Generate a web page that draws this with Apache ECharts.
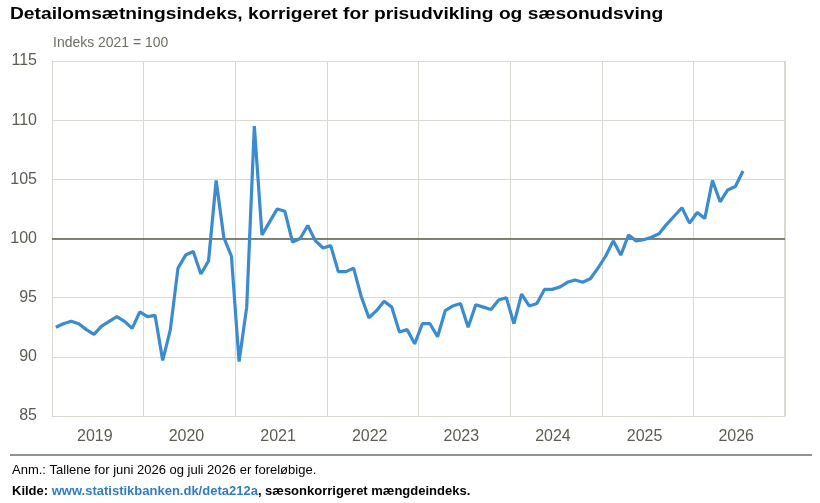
<!DOCTYPE html>
<html>
<head>
<meta charset="utf-8">
<script src="https://cdn.jsdelivr.net/npm/echarts@6/dist/echarts.min.js"></script>
<style>
html,body{margin:0;padding:0;background:#fff;}
#c{width:820px;height:503px;}
</style>
</head>
<body>
<div id="c"></div>
<script>
var years = ['2019','2020','2021','2022','2023','2024','2025','2026'];
var yTicks = [85, 90, 95, 100, 105, 110, 115];
var v2019 = [92.5, 92.8, 93.0, 92.8, 92.3, 91.9, 92.6, 93.0, 93.4, 93.0, 92.4, 93.8];
var v2020 = [93.4, 93.5, 89.7, 92.3, 97.5, 98.6, 98.9, 97.0, 98.1, 104.9, 100.1, 98.5];
var v2021 = [89.6, 94.2, 109.5, 100.3, 101.4, 102.5, 102.3, 99.7, 100.0, 101.1, 99.8, 99.2];
var v2022 = [99.4, 97.2, 97.2, 97.5, 95.1, 93.3, 93.9, 94.7, 94.2, 92.1, 92.3, 91.1];
var v2023 = [92.8, 92.8, 91.7, 93.9, 94.3, 94.5, 92.5, 94.4, 94.2, 94.0, 94.8, 95.0];
var v2024 = [92.8, 95.3, 94.3, 94.5, 95.7, 95.7, 95.9, 96.3, 96.5, 96.3, 96.6, 97.5];
var v2025 = [98.5, 99.8, 98.6, 100.3, 99.8, 99.9, 100.1, 100.4, 101.2, 101.9, 102.6, 101.3];
var v2026 = [102.2, 101.7, 104.9, 103.1, 104.1, 104.4, 105.7];
var refValue = 100;

var values = [].concat(v2019, v2020, v2021, v2022, v2023, v2024, v2025, v2026);
var months = [];
years.forEach(function (y) { for (var m = 1; m <= 12; m++) months.push(y + '-' + (m < 10 ? '0' : '') + m); });

var sans = '"Liberation Sans", Arial, sans-serif';
var chart = echarts.init(document.getElementById('c'), null, {renderer: 'canvas'});
chart.setOption({
  animation: false,
  backgroundColor: '#ffffff',
  grid: {left: 52, right: 35, top: 61, bottom: 87, containLabel: false},
  xAxis: [{
    type: 'category', data: years, boundaryGap: true, position: 'bottom',
    axisLine: {show: true, lineStyle: {color: '#d9d9d2', width: 1}},
    axisTick: {show: false},
    axisLabel: {color: '#5c5c52', fontSize: 16, fontFamily: sans, margin: 13, padding: [0, 6, 0, 0]},
    splitLine: {show: true, lineStyle: {color: '#d9d9d2', width: 1}}
  }, {
    type: 'category', data: months, boundaryGap: true, show: false
  }],
  yAxis: {
    type: 'value', min: 85, max: 115, interval: 5,
    axisLine: {show: true, lineStyle: {color: '#d9d9d2'}},
    axisTick: {show: false},
    axisLabel: {color: '#5c5c52', fontSize: 16, fontFamily: sans, margin: 15,
      formatter: function (v) { return yTicks.indexOf(v) >= 0 ? String(v) : ''; }},
    splitLine: {show: true, lineStyle: {color: '#d9d9d2', width: 1}}
  },
  graphic: [
    {type: 'text', x: 10, y: 6, scaleX: 1.13, style: {
      text: 'Detailomsætningsindeks, korrigeret for prisudvikling og sæsonudsving',
      fill: '#000', font: 'bold 17px ' + sans, textVerticalAlign: 'top'}},
    {type: 'rect', shape: {x: 784, y: 61, width: 1, height: 355}, style: {fill: '#d9d9d2'}, silent: true},
    {type: 'text', x: 53, y: 35, scaleX: 0.93, style: {text: 'Indeks 2021 = 100', fill: '#6e6e62', font: '15px ' + sans, textVerticalAlign: 'top'}},
    {type: 'line', shape: {x1: 10, y1: 455, x2: 812, y2: 455}, style: {stroke: '#8d9595', lineWidth: 2}},
    {type: 'text', left: 12, top: 464, style: {text: 'Anm.: Tallene for juni 2026 og juli 2026 er foreløbige.', fill: '#000', font: '13px ' + sans}},
    {type: 'text', left: 12, top: 485, style: {
      text: '{a|Kilde: }{b|www.statistikbanken.dk/deta212a}{a|, sæsonkorrigeret mængdeindeks.}',
      rich: {
        a: {fill: '#000', font: 'bold 13px ' + sans},
        b: {fill: '#2f7cc4', font: 'bold 13px ' + sans}
      }
    }}
  ],
  series: [{
    type: 'line', xAxisIndex: 1, data: values, showSymbol: false, symbol: 'none',
    lineStyle: {color: '#3a8bd0', width: 3.2}, z: 3,
    markLine: {
      silent: true, symbol: ['none', 'none'], label: {show: false},
      lineStyle: {color: '#5b5b4c', width: 1.5, type: 'solid'},
      data: [{yAxis: refValue}], z: 2
    }
  }]
});
</script>
</body>
</html>
